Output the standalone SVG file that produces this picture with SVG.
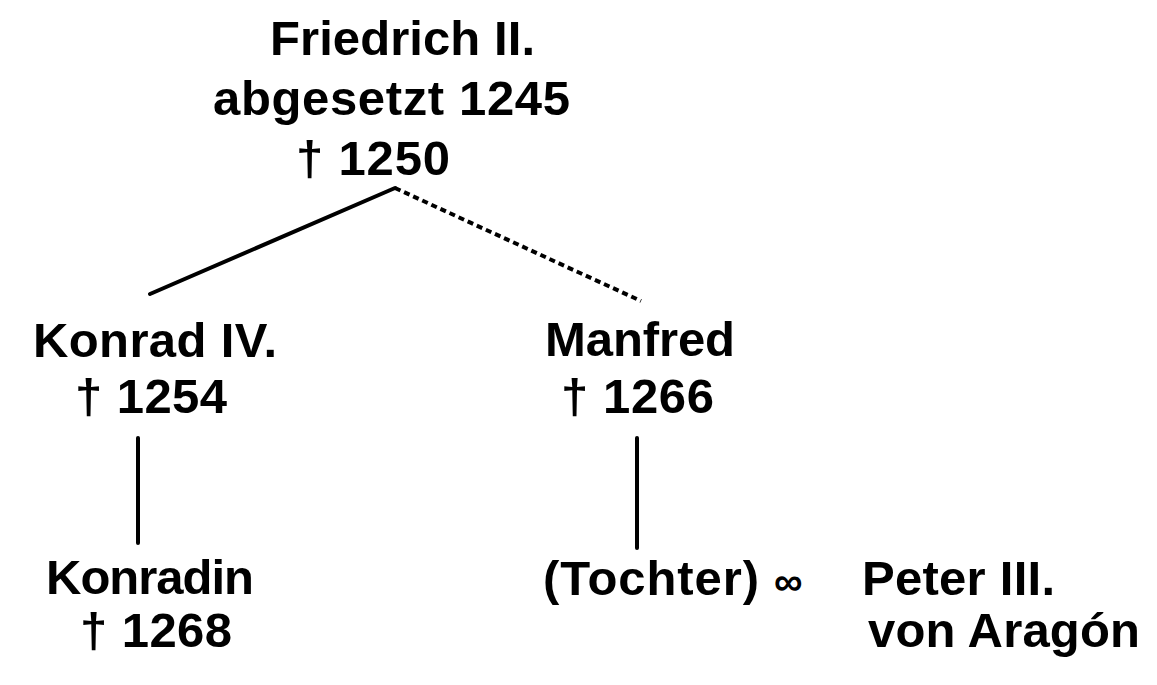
<svg xmlns="http://www.w3.org/2000/svg" width="1157" height="685" viewBox="0 0 1157 685">
<style>
text{font-family:"Liberation Sans",Arial,sans-serif;font-weight:bold;font-size:49px;fill:#000}
.ln{stroke:#000;stroke-width:4;fill:none;stroke-linecap:round}
.dash{stroke-dasharray:6 4;stroke-linecap:butt}
</style>
<rect width="1157" height="685" fill="#fff"/>
<g id="connectors">
<line class="ln" x1="150" y1="294" x2="395" y2="188"/>
<line class="ln dash" x1="395" y1="188" x2="641" y2="301"/>
<line class="ln" x1="138" y1="438" x2="138" y2="543"/>
<line class="ln" x1="637" y1="438" x2="637" y2="548"/>
</g>
<g id="friedrich">
<text x="270" y="55" textLength="265" lengthAdjust="spacing">Friedrich II.</text>
<text x="213" y="115" textLength="357" lengthAdjust="spacing">abgesetzt 1245</text>
<text x="296" y="175" textLength="154" lengthAdjust="spacing">† 1250</text>
</g>
<g id="konrad">
<text x="33" y="357" textLength="244" lengthAdjust="spacing">Konrad IV.</text>
<text x="75" y="413" textLength="152" lengthAdjust="spacing">† 1254</text>
</g>
<g id="manfred">
<text x="545" y="356" textLength="190" lengthAdjust="spacing">Manfred</text>
<text x="561" y="413" textLength="153" lengthAdjust="spacing">† 1266</text>
</g>
<g id="konradin">
<text x="46" y="594" textLength="208" lengthAdjust="spacing">Konradin</text>
<text x="80" y="647" textLength="152" lengthAdjust="spacing">† 1268</text>
</g>
<g id="tochter">
<text x="543" y="595"><tspan textLength="216" lengthAdjust="spacing">(Tochter)</tspan> <tspan x="774" font-size="40">∞</tspan></text>
</g>
<g id="peter">
<text x="862" y="595" textLength="193" lengthAdjust="spacing">Peter III.</text>
<text x="868" y="647" textLength="272" lengthAdjust="spacing">von Aragón</text>
</g>
</svg>
